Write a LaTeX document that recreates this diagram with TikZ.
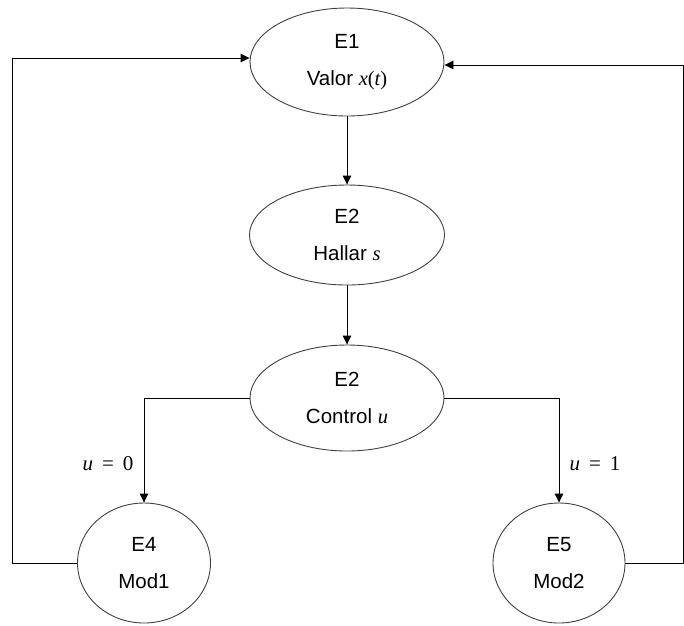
\documentclass[tikz,border=0pt]{standalone}
\usepackage{fontspec}
\setmainfont{Liberation Sans}
\newfontfamily\varfont{Liberation Serif}
\usetikzlibrary{shapes.geometric,arrows.meta}
% variables set in a serif italic, brackets and digits upright
\newcommand{\vi}[1]{{\varfont\itshape #1}}
\newcommand{\vr}[1]{{\varfont #1}}
\begin{document}
\begin{tikzpicture}[x=1pt,y=-1pt,
  state/.style={ellipse,draw=black!75,line width=0.9pt,inner sep=0pt,
    align=center,font=\fontsize{20.5}{37}\selectfont},
  arr/.style={line width=0.9pt,-{Triangle[length=9pt,width=8.5pt]}},
  lbl/.style={font=\fontsize{21}{25}\selectfont}]
\useasboundingbox (0,0) rectangle (684,625);

% states
\node[state,minimum width=194pt,minimum height=108pt] (e1) at (347,62) {E1\\Valor \vi{x}\vr{(}\vi{t}\vr{)}};
\node[state,minimum width=195pt,minimum height=100pt] (e2) at (347,235) {E2\\Hallar \vi{s}};
\node[state,minimum width=194pt,minimum height=106pt] (e3) at (347,398) {E2\\Control \vi{u}};
\node[state,minimum width=133pt,minimum height=120pt] (e4) at (144,563) {E4\\Mod1};
\node[state,minimum width=132pt,minimum height=120pt] (e5) at (559,563) {E5\\Mod2};

% feedback rails
\coordinate (lc) at (12,0);
\coordinate (rc) at (683.5,0);

% main flow
\draw[arr] (e1) -- (e2);
\draw[arr] (e2) -- (e3);
\draw[arr] (e3.west) -| (e4.north);
\draw[arr] (e3.east) -| (e5.north);

% return paths
\draw[arr] (e4.west) -- (e4.west -| lc) |- ([yshift=4pt]e1.west);
\draw[arr] (e5.east) -- (e5.east -| rc) |- ([yshift=-3pt]e1.east);

% branch conditions
\node[lbl] (l0) at (108,464) {\vi{u}\hspace{9pt}\vr{=}\hspace{9pt}\vr{0}};
\node[lbl] (l1) at (595,464) {\vi{u}\hspace{9pt}\vr{=}\hspace{9pt}\vr{1}};
\end{tikzpicture}
\end{document}
